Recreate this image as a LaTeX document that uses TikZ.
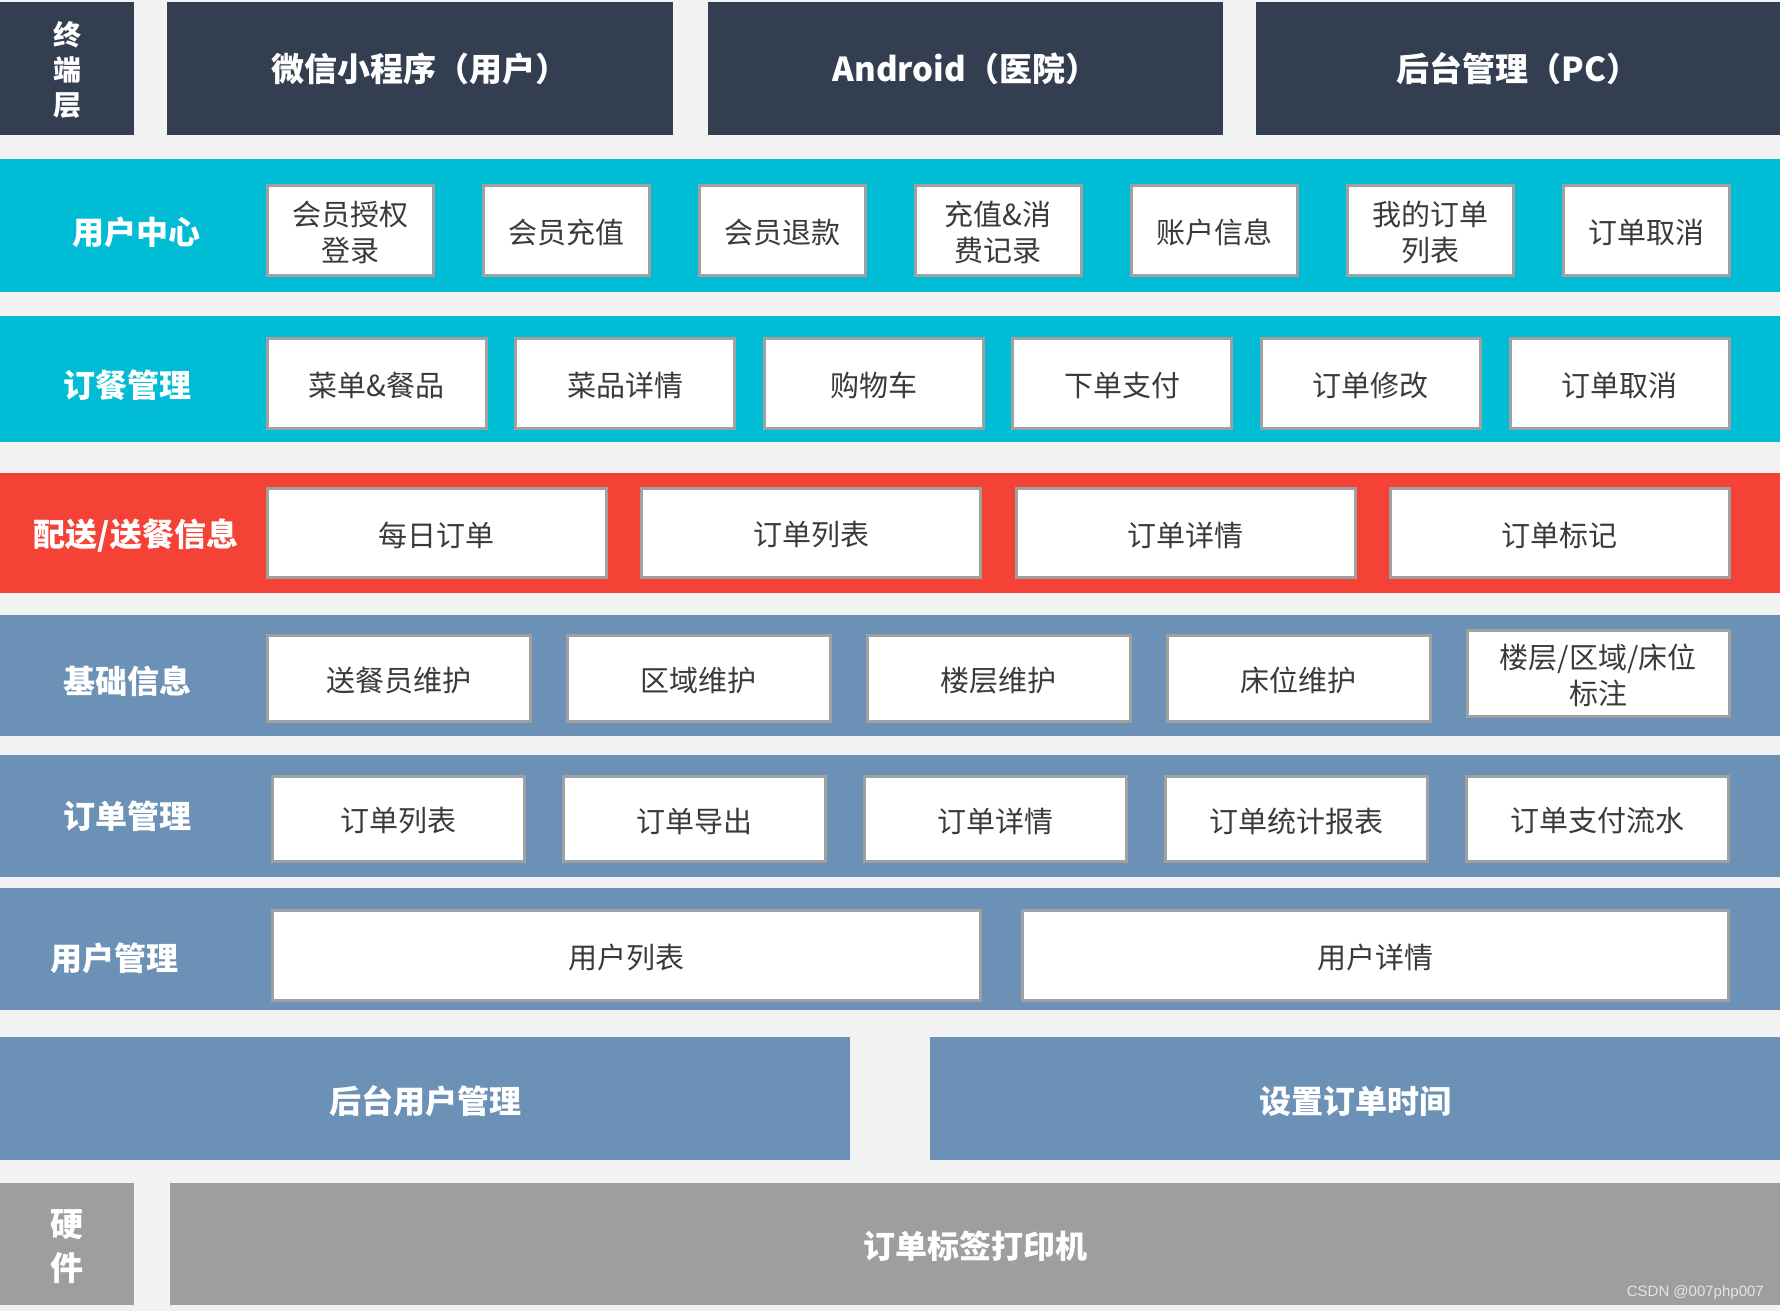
\documentclass[tikz,border=0pt]{standalone}
\usepackage{fontspec}
\setmainfont{Noto Sans CJK SC}
\newfontfamily\wmfont{Liberation Sans}
\definecolor{bg}{HTML}{F2F2F2}
\definecolor{navy}{HTML}{343E51}
\definecolor{cyanband}{HTML}{00BCD4}
\definecolor{redband}{HTML}{F44336}
\definecolor{steel}{HTML}{6C91B6}
\definecolor{hwgray}{HTML}{9E9E9E}
\definecolor{cellborder}{HTML}{A0A0A0}
\definecolor{celltext}{HTML}{3A3A3A}
\newcommand\headfont{\fontsize{32}{38}\selectfont\bfseries}
\newcommand\topfont{\fontsize{33}{40}\selectfont\bfseries}
\newcommand\cellfont{\fontsize{29}{36}\selectfont}
\newcommand\vertfont{\fontsize{28}{35}\selectfont\bfseries}
\newcommand\hwfont{\fontsize{33}{44}\selectfont\bfseries}
\tikzset{
  band/.style={fill=#1, draw=none, inner sep=0pt},
  cell/.style={fill=white, draw=cellborder, line width=3pt, inner sep=0pt},
  celltxt/.style={text=celltext, font=\cellfont, align=center, inner sep=0pt},
  toptxt/.style={text=white, font=\topfont, inner sep=0pt, yshift=2.5pt},
  headtxt/.style={text=white, font=\headfont, inner sep=0pt},
  lbl/.style={text=white, font=\headfont, inner sep=0pt},
}
% box style, name, x1, y1, x2, y2, text style, text
\newcommand\bx[8]{\node[#1, minimum width={#5-#3}, minimum height={#6-#4}] (#2)
  at ({(#3+#5)/2},{(#4+#6)/2}) {};
  \node[#7] (#2t) at ([yshift=-2.5pt]#2.center) {#8};}
\begin{document}
\begin{tikzpicture}[x=1pt,y=-1pt]
\fill[bg] (0,0) rectangle (1780,1311);
\useasboundingbox (0,0) rectangle (1780,1311);

% terminal layer
\bx{band=navy}{term}{0}{2}{134}{135}{text=white, font=\vertfont, align=center, inner sep=0pt, yshift=1.5pt}{终\\端\\层}
\bx{band=navy}{wx}{167}{2}{673}{135}{toptxt}{微信小程序（用户）}
\bx{band=navy}{android}{708}{2}{1223}{135}{toptxt}{Android（医院）}
\bx{band=navy}{pc}{1256}{2}{1780}{135}{toptxt}{后台管理（PC）}

% user center
\bx{band=cyanband}{uc}{0}{159}{1780}{292}{lbl}{}
\node[lbl] (uclbl) at (136,232.5) {用户中心};
\bx{cell}{uc1}{267}{185}{433}{275}{celltxt}{会员授权\\登录}
\bx{cell}{uc2}{483}{185}{649}{275}{celltxt}{会员充值}
\bx{cell}{uc3}{699}{185}{865}{275}{celltxt}{会员退款}
\bx{cell}{uc4}{915}{185}{1081}{275}{celltxt}{充值\&消\\费记录}
\bx{cell}{uc5}{1131}{185}{1297}{275}{celltxt}{账户信息}
\bx{cell}{uc6}{1347}{185}{1513}{275}{celltxt}{我的订单\\列表}
\bx{cell}{uc7}{1563}{185}{1729}{275}{celltxt}{订单取消}

% ordering
\bx{band=cyanband}{om}{0}{316}{1780}{442}{lbl}{}
\node[lbl] (omlbl) at (127,385) {订餐管理};
\bx{cell}{om1}{267}{338}{486}{428}{celltxt}{菜单\&餐品}
\bx{cell}{om2}{515.5}{338}{734.5}{428}{celltxt}{菜品详情}
\bx{cell}{om3}{764}{338}{983}{428}{celltxt}{购物车}
\bx{cell}{om4}{1012.5}{338}{1231.5}{428}{celltxt}{下单支付}
\bx{cell}{om5}{1261}{338}{1480}{428}{celltxt}{订单修改}
\bx{cell}{om6}{1510}{338}{1729}{428}{celltxt}{订单取消}

% delivery
\bx{band=redband}{dl}{0}{473}{1780}{593}{lbl}{}
\node[lbl] (dllbl) at (136,535.5) {配送/送餐信息};
\bx{cell}{dl1}{267}{488}{606}{577}{celltxt}{每日订单}
\bx{cell}{dl2}{641.5}{488}{980.5}{577}{celltxt}{订单列表}
\bx{cell}{dl3}{1016}{488}{1355}{577}{celltxt}{订单详情}
\bx{cell}{dl4}{1390}{488}{1729}{577}{celltxt}{订单标记}

% basic info
\bx{band=steel}{bi}{0}{615}{1780}{736}{lbl}{}
\node[lbl] (bilbl) at (127,681) {基础信息};
\bx{cell}{bi1}{267}{635}{530}{721}{celltxt}{送餐员维护}
\bx{cell}{bi2}{567}{635}{830}{721}{celltxt}{区域维护}
\bx{cell}{bi3}{867}{635}{1130}{721}{celltxt}{楼层维护}
\bx{cell}{bi4}{1167}{635}{1430}{721}{celltxt}{床位维护}
\bx{cell}{bi5}{1467}{630}{1729}{716}{celltxt}{楼层/区域/床位\\标注}

% order management
\bx{band=steel}{od}{0}{755}{1780}{877}{lbl}{}
\node[lbl] (odlbl) at (127,816) {订单管理};
\bx{cell}{od1}{272}{776}{524}{861}{celltxt}{订单列表}
\bx{cell}{od2}{563}{776}{825}{861}{celltxt}{订单导出}
\bx{cell}{od3}{864}{776}{1126}{861}{celltxt}{订单详情}
\bx{cell}{od4}{1165}{776}{1427}{861}{celltxt}{订单统计报表}
\bx{cell}{od5}{1466}{776}{1728}{861}{celltxt}{订单支付流水}

% user management
\bx{band=steel}{um}{0}{888}{1780}{1010}{lbl}{}
\node[lbl] (umlbl) at (114,958) {用户管理};
\bx{cell}{um1}{272}{910}{980}{1000}{celltxt}{用户列表}
\bx{cell}{um2}{1022}{910}{1728}{1000}{celltxt}{用户详情}

% backend
\bx{band=steel}{bu}{0}{1037}{850}{1160}{headtxt}{后台用户管理}
\bx{band=steel}{ot}{930}{1037}{1780}{1160}{headtxt}{设置订单时间}

% hardware
\bx{band=hwgray}{hw}{0}{1183}{134}{1305}{text=white, font=\hwfont, align=center, inner sep=0pt}{硬\\件}
\bx{band=hwgray}{pr}{170}{1183}{1780}{1305}{headtxt}{订单标签打印机}

\node[anchor=east, inner sep=0pt, text=white!90!black, font=\wmfont\fontsize{15}{17}\selectfont] (wm) at (1764,1293) {CSDN @007php007};
\end{tikzpicture}
\end{document}
